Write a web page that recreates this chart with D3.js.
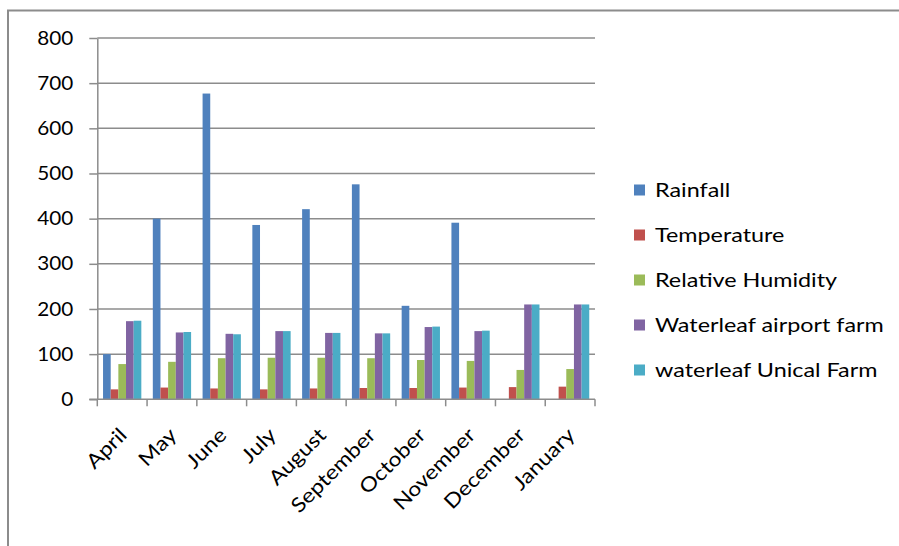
<!DOCTYPE html>
<html>
<head>
<meta charset="utf-8">
<script src="https://cdn.jsdelivr.net/npm/d3@7"></script>
<style>
  html, body { margin: 0; padding: 0; background: #fff; }
  svg { display: block; }
  text { font-family: Lato, "Open Sans", sans-serif; fill: #000; }
</style>
</head>
<body>
<svg id="chart" width="899" height="546"></svg>
<script>
// Monthly climate readings and waterleaf measurements
const months = ["April", "May", "June", "July", "August", "September", "October", "November", "December", "January"];
const seriesNames = ["Rainfall", "Temperature", "Relative Humidity", "Waterleaf airport farm", "waterleaf Unical Farm"];
const rainfall    = [100, 400, 677, 386, 421, 476, 207, 391, 0, 0];
const temperature = [22, 26, 24, 22, 24, 25, 25, 26, 27, 28];
const humidity    = [78, 83, 91, 92, 92, 91, 87, 85, 65, 67];
const airportFarm = [173, 148, 145, 151, 147, 146, 160, 151, 210, 210];
const unicalFarm  = [174, 149, 144, 151, 147, 146, 161, 152, 210, 210];
const yTicks = [0, 100, 200, 300, 400, 500, 600, 700, 800];
const colors = ["#4F81BD", "#C0504D", "#9BBB59", "#8064A2", "#4BACC6"];

const seriesValues = [rainfall, temperature, humidity, airportFarm, unicalFarm];

const FONT_SIZE = 19;
const X_FONT_SIZE = 20;
// wide label face: glyphs are stretched horizontally to these run widths
const widthTargets = {
  yLabel: ["800", 36, FONT_SIZE],
  xLabel: ["September", 110, X_FONT_SIZE],
  legend: ["Waterleaf airport farm", 229, FONT_SIZE]
};

const svg = d3.select("#chart");

function stretchFor(key) {
  const [sample, target, size] = widthTargets[key];
  const t = svg.append("text").attr("font-size", size).text(sample);
  const w = t.node().getComputedTextLength();
  t.remove();
  return w > 0 ? target / w : 1;
}
const sy = stretchFor("yLabel");
const sx = stretchFor("xLabel");
const sl = stretchFor("legend");

// outer chart frame (continues past the right and bottom edges)
svg.append("path")
  .attr("d", "M8,560 L8,10.5 L910,10.5")
  .attr("fill", "none")
  .attr("stroke", "#8c8c8c")
  .attr("stroke-width", 2);

const plot = { left: 97.3, right: 595, top: 38, bottom: 399.3 };

const x0 = d3.scaleBand().domain(months).range([plot.left, plot.right]).padding(0);
const y = d3.scaleLinear().domain([0, 800]).range([plot.bottom, plot.top]);

const gridColor = "#8c8c8c";

// horizontal gridlines
svg.append("g")
  .selectAll("line")
  .data(yTicks.filter(d => d > 0))
  .join("line")
  .attr("x1", plot.left).attr("x2", plot.right)
  .attr("y1", d => y(d)).attr("y2", d => y(d))
  .attr("stroke", gridColor).attr("stroke-width", 1.5);

// bars: gap of 1.5 bar widths between groups
const bw = x0.bandwidth();
const barW = bw / 6.5;
const groups = svg.append("g")
  .selectAll("g")
  .data(months)
  .join("g")
  .attr("transform", d => `translate(${x0(d) + barW * 0.75},0)`);

groups.selectAll("rect")
  .data((m, i) => seriesValues.map((vals, s) => ({ s, v: vals[i] })))
  .join("rect")
  .attr("x", d => d.s * barW)
  .attr("width", barW)
  .attr("y", d => y(d.v))
  .attr("height", d => y(0) - y(d.v))
  .attr("fill", d => colors[d.s]);

// y axis
const yAxis = d3.axisLeft(y).tickValues(yTicks).tickSize(8).tickSizeOuter(0).tickPadding(15);
const gy = svg.append("g").attr("transform", `translate(${plot.left},0)`).call(yAxis);
gy.select(".domain").attr("stroke", gridColor).attr("stroke-width", 1.5);
gy.selectAll(".tick line").attr("stroke", gridColor).attr("stroke-width", 1.5);
gy.selectAll(".tick text")
  .attr("x", null)
  .attr("transform", `translate(-24,0) scale(${sy},1)`)
  .attr("font-size", FONT_SIZE)
  .attr("font-family", "Lato")
  .attr("fill", "#000");

// x axis with ticks at category boundaries
const boundaries = months.map(m => x0(m)).concat([plot.right]);
const gx = svg.append("g");
gx.append("line")
  .attr("x1", plot.left - 8).attr("x2", plot.right)
  .attr("y1", plot.bottom).attr("y2", plot.bottom)
  .attr("stroke", gridColor).attr("stroke-width", 1.5);
gx.selectAll("line.tk")
  .data(boundaries)
  .join("line")
  .attr("class", "tk")
  .attr("x1", d => d).attr("x2", d => d)
  .attr("y1", plot.bottom).attr("y2", plot.bottom + 7)
  .attr("stroke", gridColor).attr("stroke-width", 1.5);
gx.selectAll("text")
  .data(months)
  .join("text")
  .attr("transform", d => `translate(${x0(d) + bw / 2 + 6},${plot.bottom + 37}) rotate(-45) scale(${sx},1)`)
  .attr("text-anchor", "end")
  .attr("font-size", X_FONT_SIZE)
  .text(d => d);

// legend
const legend = svg.append("g").attr("transform", "translate(634,190.5)");
const items = legend.selectAll("g")
  .data(seriesNames)
  .join("g")
  .attr("transform", (d, i) => `translate(0,${i * 45})`);
items.append("rect")
  .attr("x", 0).attr("y", -6).attr("width", 11).attr("height", 11)
  .attr("fill", (d, i) => colors[i]);
items.append("text")
  .attr("transform", `translate(21,0) scale(${sl},1)`)
  .attr("dy", "0.35em")
  .attr("font-size", FONT_SIZE)
  .text(d => d);
</script>
</body>
</html>
